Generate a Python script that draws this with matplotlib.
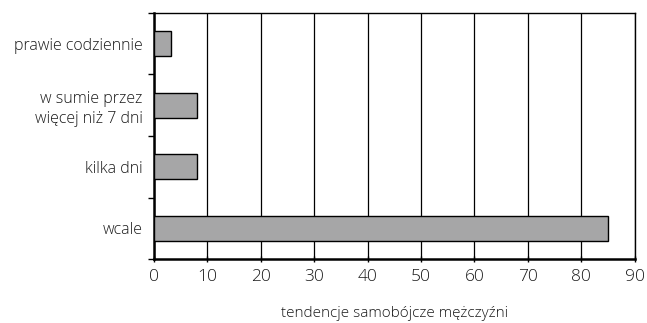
import matplotlib
matplotlib.use("Agg")
import matplotlib.pyplot as plt
import numpy as np

categories = ["wcale", "kilka dni", "w sumie przez\nwięcej niż 7 dni", "prawie codziennie"]
values = [85.0, 8.0, 8.0, 3.2]
xticks = list(range(0, 91, 10))
xlabel = "tendencje samobójcze mężczyźni"

plt.rcParams["font.family"] = ["Open Sans", "DejaVu Sans"]
plt.rcParams["font.weight"] = "light"

fig = plt.figure(figsize=(6.47, 3.23), dpi=100)
ax = fig.add_axes([0.238, 0.198, 0.743, 0.762])

y = np.arange(len(categories))
ax.barh(y, values, height=0.4, color="#a6a6a7", edgecolor="black", linewidth=1.0, zorder=3)

ax.set_xlim(0, 90)
ax.set_ylim(-0.5, len(categories) - 0.5)
ax.set_xticks(xticks)
ax.set_xticklabels([str(t) for t in xticks], fontsize=12.5, color="#1a1a1a")
ax.xaxis.grid(True, color="black", linewidth=0.9, zorder=0)
ax.set_axisbelow(True)

ax.set_yticks(y)
ax.set_yticklabels(categories, fontsize=11.5, linespacing=1.3, color="#1a1a1a")
ax.set_yticks(np.arange(-0.5, len(categories)), minor=True)
ax.tick_params(axis="y", which="major", length=0, pad=8)
ax.tick_params(axis="y", which="minor", length=4, width=1, direction="out")
ax.tick_params(axis="x", length=4, width=1, direction="inout", pad=5)

for s in ("left", "bottom"):
    ax.spines[s].set_linewidth(1.8)
for s in ("top", "right"):
    ax.spines[s].set_linewidth(1.0)

ax.set_xlabel(xlabel, fontsize=11, labelpad=15, color="#1a1a1a", fontweight="light")

fig.savefig("out.png", dpi=100)
